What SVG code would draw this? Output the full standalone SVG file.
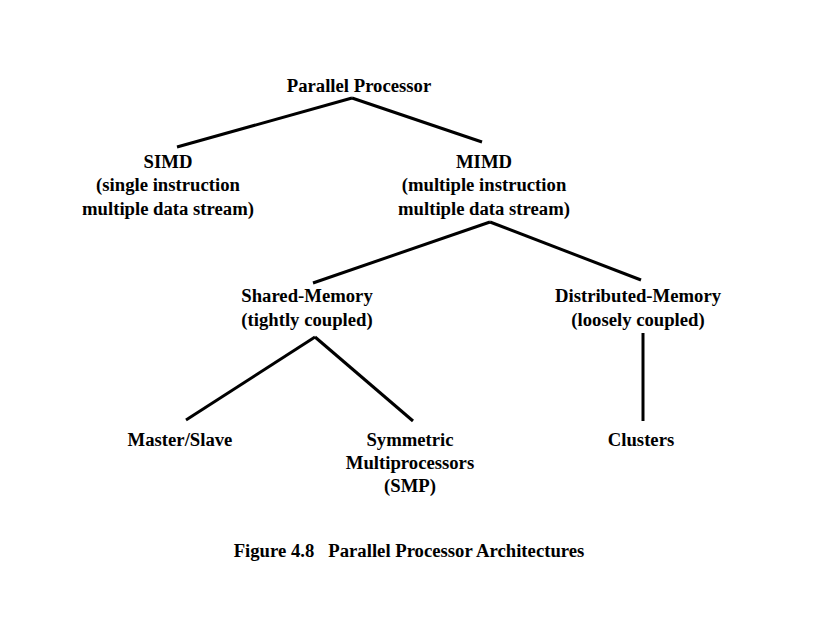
<svg xmlns="http://www.w3.org/2000/svg" width="824" height="637" viewBox="0 0 824 637">
<style>
text{font-family:"Liberation Serif","Times New Roman",serif;font-weight:bold;font-size:18.7px;fill:#000;text-anchor:middle}
.c line{stroke:#000;stroke-width:3;stroke-linecap:butt}
</style>
<rect width="824" height="637" fill="#fff"/>
<g class="c" id="connectors">
<line x1="352" y1="98" x2="177" y2="147"/>
<line x1="352" y1="98" x2="482" y2="142"/>
<line x1="490" y1="222" x2="313" y2="283"/>
<line x1="490" y1="222" x2="641" y2="280"/>
<line x1="315" y1="337" x2="186" y2="420"/>
<line x1="315" y1="337" x2="413" y2="421"/>
<line x1="643" y1="333" x2="643" y2="421"/>
</g>
<g id="parallel"><text x="359" y="92">Parallel Processor</text></g>
<g id="simd"><text x="168" y="168">SIMD</text><text x="168" y="191">(single instruction</text><text x="168" y="215">multiple data stream)</text></g>
<g id="mimd"><text x="484" y="168">MIMD</text><text x="484" y="191">(multiple instruction</text><text x="484" y="215">multiple data stream)</text></g>
<g id="shared"><text x="307" y="302">Shared-Memory</text><text x="307" y="326">(tightly coupled)</text></g>
<g id="distributed"><text x="638" y="302">Distributed-Memory</text><text x="638" y="326">(loosely coupled)</text></g>
<g id="master"><text x="180" y="446">Master/Slave</text></g>
<g id="smp"><text x="410" y="446">Symmetric</text><text x="410" y="469">Multiprocessors</text><text x="410" y="492">(SMP)</text></g>
<g id="clusters"><text x="641" y="446">Clusters</text></g>
<g id="caption"><text x="409" y="557" xml:space="preserve">Figure 4.8   Parallel Processor Architectures</text></g>
</svg>
